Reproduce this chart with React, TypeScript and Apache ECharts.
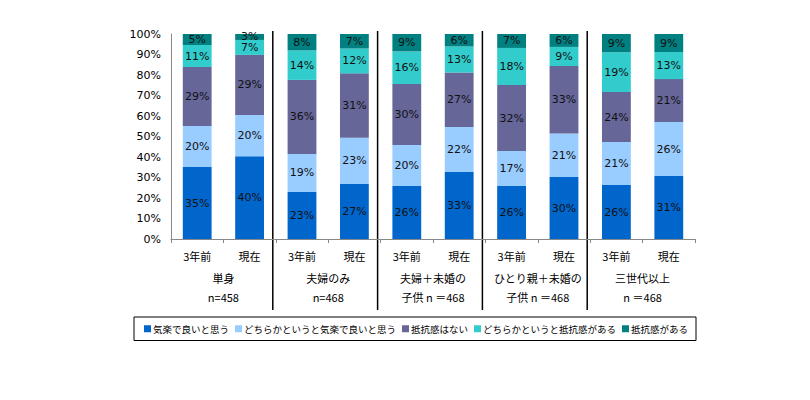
import React, { useEffect, useRef } from "react";
import * as echarts from "echarts";

const categories = ["3年前", "現在", "3年前", "現在", "3年前", "現在", "3年前", "現在", "3年前", "現在"];
const groupLabels = [
  "単身\nn=458",
  "夫婦のみ\nn=468",
  "夫婦＋未婚の\n子供 n ＝468",
  "ひとり親＋未婚の\n子供 n ＝468",
  "三世代以上\nn ＝468",
];
const seriesNames = [
  "気楽で良いと思う",
  "どちらかというと気楽で良いと思う",
  "抵抗感はない",
  "どちらかというと抵抗感がある",
  "抵抗感がある",
];
const easy = [35.1, 40.4, 22.9, 26.8, 25.9, 32.7, 25.9, 30.2, 26.3, 30.7];
const ratherEasy = [20.0, 20.1, 18.6, 22.6, 20.0, 21.9, 17.0, 21.3, 21.0, 26.4];
const noResistance = [28.8, 29.3, 36.1, 31.4, 29.7, 26.6, 32.2, 32.9, 24.4, 20.9];
const ratherResistance = [10.7, 7.3, 14.4, 12.1, 15.9, 12.7, 18.1, 9.3, 19.4, 13.2];
const resistance = [5.4, 2.9, 8.0, 7.1, 8.5, 6.1, 6.8, 6.3, 8.9, 8.8];
const yTicks = { min: 0, max: 100, interval: 10 };

const colors = ["#0066CC", "#99CCFF", "#666699", "#33CCCC", "#008080"];

export default function App() {
  const ref = useRef<HTMLDivElement>(null);
  useEffect(() => {
    if (!ref.current) return;
    document.body.style.margin = "0";
    const chart = echarts.init(ref.current, null, { renderer: "svg" });
    const values = [easy, ratherEasy, noResistance, ratherResistance, resistance];
    const labelFont = "'DejaVu Sans', Verdana, sans-serif";
    const jpFont = "'Noto Sans CJK JP', sans-serif";
    chart.setOption({
      animation: false,
      backgroundColor: "#fff",
      grid: { left: 171, right: 115, top: 34, bottom: 161, containLabel: false },
      legend: {
        data: seriesNames,
        left: 134,
        top: 317,
        orient: "horizontal",
        itemWidth: 7,
        itemHeight: 7,
        itemGap: 6,
        padding: [7, 8, 7, 10],
        borderColor: "#000",
        borderWidth: 1,
        icon: "rect",
        textStyle: { fontSize: 9.5, fontFamily: jpFont, color: "#000", padding: [0, 0, 0, -3] },
      },
      xAxis: [
        {
          type: "category",
          data: categories,
          position: "bottom",
          axisLine: { show: true, lineStyle: { color: "#888", width: 1 } },
          axisTick: { show: true, length: 4, interval: 0, lineStyle: { color: "#888" } },
          axisLabel: { interval: 0, margin: 11, fontSize: 11, fontFamily: jpFont, color: "#000" },
        },
        {
          type: "category",
          data: groupLabels,
          position: "bottom",
          axisLine: { show: false },
          axisTick: { show: false },
          axisLabel: {
            interval: 0,
            margin: 29,
            fontSize: 11,
            lineHeight: 19,
            fontFamily: jpFont,
            color: "#000",
          },
        },
      ],
      yAxis: {
        type: "value",
        min: yTicks.min,
        max: yTicks.max,
        interval: yTicks.interval,
        axisLine: { show: true, lineStyle: { color: "#888", width: 1 } },
        axisTick: { show: false },
        splitLine: { show: false },
        axisLabel: { formatter: "{value}%", margin: 10, fontSize: 11, fontFamily: labelFont, color: "#000" },
      },
      series: seriesNames.map((name, i) => ({
        name,
        type: "bar",
        stack: "total",
        xAxisIndex: 0,
        barWidth: "55%",
        itemStyle: { color: colors[i] },
        data: values[i],
        label: {
          show: true,
          position: "inside",
          formatter: (p: any) => Math.round(p.value) + "%",
          fontSize: 11,
          fontFamily: labelFont,
          color: "#111",
        },
      })),
    });
    // separators between groups
    const lines: any[] = [];
    for (let g = 1; g < 5; g++) {
      const a = chart.convertToPixel({ xAxisIndex: 0 }, 2 * g - 1) as number;
      const b = chart.convertToPixel({ xAxisIndex: 0 }, 2 * g) as number;
      const x = (a + b) / 2 - 3;
      const top = chart.convertToPixel({ yAxisIndex: 0 }, 100) as number;
      lines.push({
        type: "line",
        shape: { x1: x, y1: top - 3, x2: x, y2: 310 },
        style: { stroke: "#000", lineWidth: 1.5 },
        silent: true,
      });
    }
    chart.setOption({ graphic: lines });
    return () => chart.dispose();
  }, []);
  return <div ref={ref} style={{ width: 810, height: 400 }} />;
}
